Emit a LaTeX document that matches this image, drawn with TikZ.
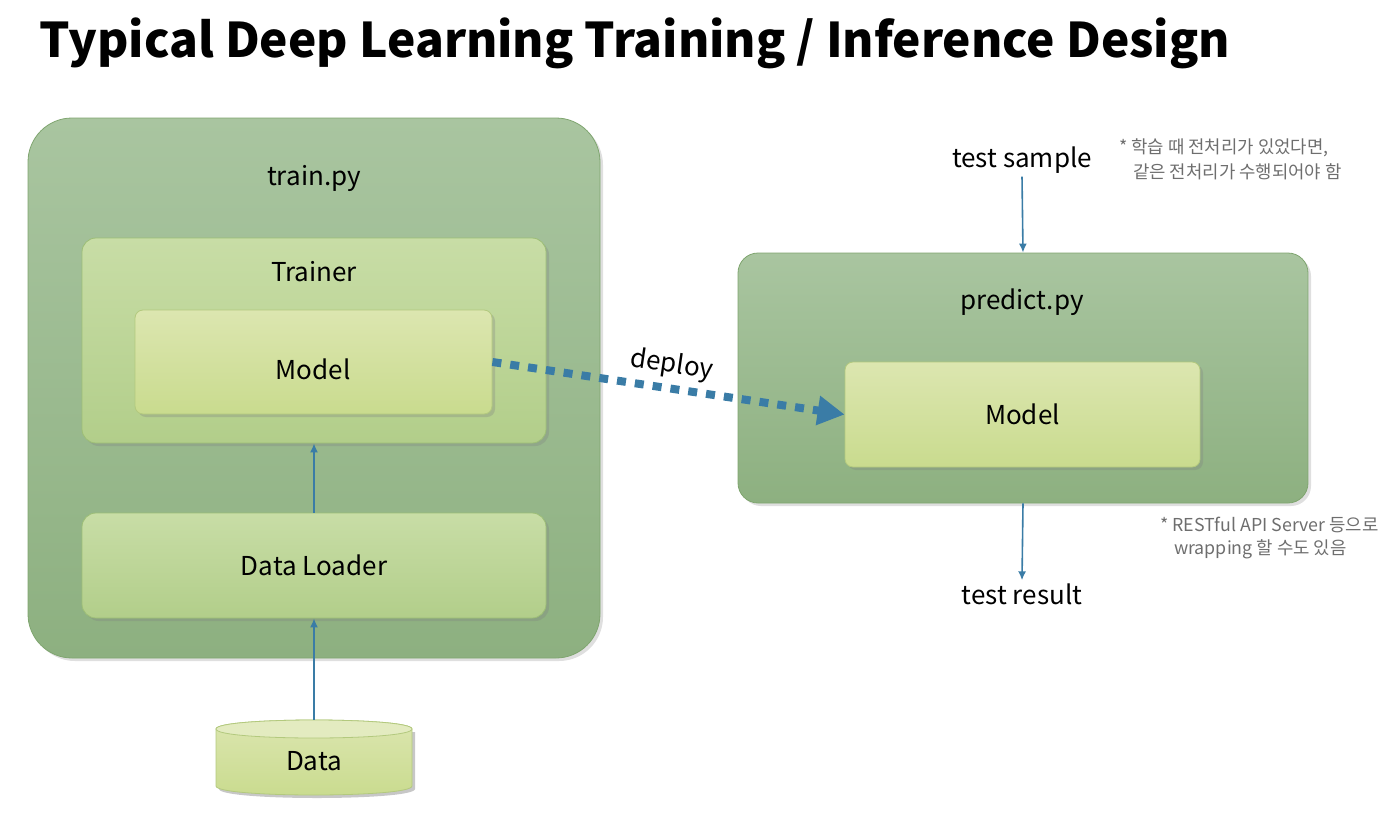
\documentclass[tikz,border=0pt]{standalone}
\usepackage{fontspec}
\setmainfont{Noto Sans CJK KR}
\usetikzlibrary{arrows.meta,shadows}
\definecolor{outtop}{HTML}{A9C5A0}
\definecolor{outbot}{HTML}{8DB080}
\definecolor{outline}{HTML}{7FA56F}
\definecolor{midtop}{HTML}{C8DDA6}
\definecolor{midbot}{HTML}{B2CE8A}
\definecolor{midline}{HTML}{9DBE76}
\definecolor{intop}{HTML}{DCE6B0}
\definecolor{inbot}{HTML}{C9DB8E}
\definecolor{inline}{HTML}{B3C97E}
\definecolor{arrowblue}{HTML}{3A7CA6}
\definecolor{notegray}{HTML}{6E6E6E}
\begin{document}
\begin{tikzpicture}[x=1pt,y=-1pt,
  outerbox/.style={draw=outline, line width=0.8pt, rounded corners=#1, top color=outtop, bottom color=outbot,
    drop shadow={shadow xshift=3pt, shadow yshift=-3pt, opacity=0.25}},
  midbox/.style={draw=midline, line width=0.8pt, rounded corners=14pt, top color=midtop, bottom color=midbot,
    drop shadow={shadow xshift=3pt, shadow yshift=-3pt, opacity=0.3}, font=\fontsize{26}{30}\selectfont},
  innerbox/.style={draw=inline, line width=0.8pt, rounded corners=8pt, top color=intop, bottom color=inbot,
    drop shadow={shadow xshift=3pt, shadow yshift=-3pt, opacity=0.3}, font=\fontsize{26}{30}\selectfont},
  lbl/.style={font=\fontsize{26}{30}\selectfont, inner sep=0pt},
  note/.style={font=\fontsize{17.8}{21}\selectfont, text=notegray, inner sep=0pt, anchor=west},
  flow/.style={draw=arrowblue, line width=1.6pt, -{Latex[length=9pt,width=8pt]}},
]
\useasboundingbox (0,0) rectangle (1398,814);

% title
\node[anchor=base west, inner sep=0pt, font=\fontsize{47.8}{56}\selectfont\bfseries] (title) at (39,57) {Typical Deep Learning Training / Inference Design};

% train.py
\node[outerbox=44pt, minimum width=572pt, minimum height=540pt] (train) at (314,388) {};
\node[lbl] (trainlbl) at (314,178) {train.py};
\node[midbox, minimum width=464pt, minimum height=205pt] (trainer) at (314,340.5) {};
\node[lbl] (trainerlbl) at (314,272) {Trainer};
\node[innerbox, minimum width=357pt, minimum height=104pt] (model1) at (313.5,362) {};
\node[lbl] (model1lbl) at (313,369) {Model};
\node[midbox, minimum width=464pt, minimum height=105pt] (loader) at (314,565.5) {Data Loader};

% data cylinder
\node[minimum width=196pt, minimum height=75pt, inner sep=0pt] (data) at (314,757.5) {};
\fill[black, opacity=0.22] (219,732) -- (219,789) .. controls (219,801) and (415,801) .. (415,789) -- (415,732) -- cycle;
\path[draw=inline, line width=0.8pt, top color=intop, bottom color=inbot]
  (216,729) -- (216,786) .. controls (216,798) and (412,798) .. (412,786) -- (412,729) .. controls (412,717) and (216,717) .. (216,729) -- cycle;
\path[draw=inline, line width=0.8pt, fill=intop!80!white]
  (216,729) .. controls (216,741) and (412,741) .. (412,729) .. controls (412,717) and (216,717) .. (216,729) -- cycle;
\node[lbl] (datalbl) at (314,761) {Data};

\draw[flow] (data.north) -- (loader.south);
\draw[flow] (loader.north) -- (trainer.south);

% predict.py
\node[outerbox=20pt, minimum width=570pt, minimum height=250pt] (predict) at (1023,378) {};
\node[lbl] (predictlbl) at (1022,302) {predict.py};
\node[innerbox, minimum width=355pt, minimum height=105pt] (model2) at (1022.5,414.5) {Model};

\node[lbl, inner sep=3pt] (sample) at (1022,160) {test sample};
\node[lbl, inner sep=3pt] (result) at (1022,594) {test result};
\draw[flow] (sample.south) -- (predict.north);
\draw[flow] (predict.south) -- (result.north);

% deploy
\draw[draw=arrowblue, line width=8pt, dash pattern=on 9pt off 9pt,
  -{Triangle[length=27pt,width=28pt]}] (model1.east) -- (model2.west)
  node[midway, sloped, above=6pt, text=black, font=\fontsize{26}{30}\selectfont, inner sep=0pt] (deploylbl) {deploy};

% notes
\node[note] (note1) at (1119,148) {* 학습 때 전처리가 있었다면,};
\node[note] (note2) at (1133,172) {같은 전처리가 수행되어야 함};
\node[note] (note3) at (1160,525) {* RESTful API Server 등으로};
\node[note] (note4) at (1174,549) {wrapping 할 수도 있음};
\end{tikzpicture}
\end{document}
